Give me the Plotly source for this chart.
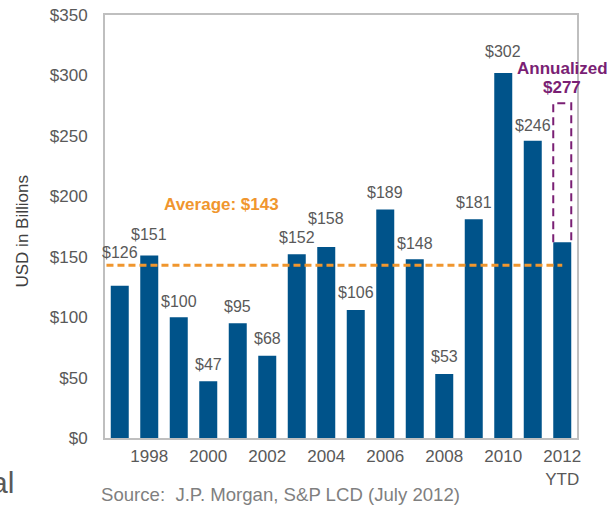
import plotly.graph_objects as go

# ---- data ----
years = ["1997", "1998", "1999", "2000", "2001", "2002", "2003", "2004",
         "2005", "2006", "2007", "2008", "2009", "2010", "2011", "2012 YTD"]
issuance = [126, 151, 100, 47, 95, 68, 152, 158, 106, 189, 148, 53, 181, 302, 246, 162]
value_labels = ["$126", "$151", "$100", "$47", "$95", "$68", "$152", "$158",
                "$106", "$189", "$148", "$53", "$181", "$302", "$246", ""]
tick_labels = ["1998", "2000", "2002", "2004", "2006", "2008", "2010", "2012<br>YTD"]
tick_years = ["1998", "2000", "2002", "2004", "2006", "2008", "2010", "2012 YTD"]
y_ticks = [0, 50, 100, 150, 200, 250, 300, 350]
y_tick_labels = ["$0", "$50", "$100", "$150", "$200", "$250", "$300", "$350"]
average = 143
annualized_2012 = 277

# ---- style ----
FONT = "Arial, Liberation Sans, sans-serif"
BAR = "#00538A"
ORANGE = "#F0962E"
PURPLE = "#7A1F74"
GREY = "#595959"
label_lift = [33, 21, 16, 17, 17, 17, 17, 29, 17, 17, 16, 17, 17, 22, 15, 17]

xs = list(range(len(years)))
tickvals = [years.index(t) for t in tick_years]

fig = go.Figure()
fig.add_trace(go.Bar(x=xs, y=issuance, marker=dict(color=BAR, line=dict(width=0)),
                     width=0.61, hoverinfo="skip"))

annotations = []
for i, (v, t) in enumerate(zip(issuance, value_labels)):
    if t:
        annotations.append(dict(x=i, y=v, text=t, showarrow=False, xref="x", yref="y",
                                yanchor="middle", yshift=label_lift[i],
                                font=dict(family=FONT, size=16, color=GREY)))

last = len(years) - 1
annotations.append(dict(x=3.45, y=average, xref="x", yref="y", text="<b>Average: $143</b>",
                        showarrow=False, yanchor="middle", yshift=61,
                        font=dict(family=FONT, size=17, color=ORANGE)))
annotations.append(dict(x=last, y=annualized_2012, xref="x", yref="y", text="<b>$277</b>",
                        showarrow=False, yanchor="middle", yshift=16,
                        font=dict(family=FONT, size=17, color=PURPLE)))
annotations.append(dict(x=last, y=annualized_2012, xref="x", yref="y", text="<b>Annualized</b>",
                        showarrow=False, yanchor="middle", yshift=35,
                        font=dict(family=FONT, size=17, color=PURPLE)))
annotations.append(dict(x=0, y=0.5, xref="paper", yref="paper", text="USD in Billions",
                        textangle=-90, showarrow=False, xanchor="center", yanchor="middle",
                        xshift=-83, yshift=-5,
                        font=dict(family=FONT, size=17, color="#404040")))
annotations.append(dict(x=0, y=0, xref="paper", yref="paper",
                        text="Source:  J.P. Morgan, S&P LCD (July 2012)",
                        showarrow=False, xanchor="left", yanchor="middle",
                        xshift=-6, yshift=-56,
                        font=dict(family=FONT, size=18.6, color="#7F7F7F")))
annotations.append(dict(x=0, y=0, xref="paper", yref="paper", text="al",
                        showarrow=False, xanchor="right", yanchor="middle",
                        xshift=-89, yshift=-44,
                        font=dict(family=FONT, size=30, color="#595959")))

half = 0.305
shapes = [
    dict(type="line", xref="x", yref="y", x0=-0.45, x1=last, y0=average, y1=average,
         line=dict(color=ORANGE, width=3, dash="7px,4px"), layer="above"),
    dict(type="path", xref="x", yref="y",
         path=f"M {last - half},{issuance[last]} L {last - half},{annualized_2012} "
              f"L {last + half},{annualized_2012} L {last + half},{issuance[last]}",
         line=dict(color=PURPLE, width=2, dash="8px,5px"), layer="above"),
]

fig.update_layout(
    width=607, height=505, autosize=False,
    margin=dict(l=105, r=30, t=15, b=67, autoexpand=False),
    paper_bgcolor="white", plot_bgcolor="white",
    showlegend=False,
    annotations=annotations, shapes=shapes,
    font=dict(family=FONT, color=GREY),
    xaxis=dict(range=[-0.5, 15.5], tickmode="array", tickvals=tickvals, ticktext=tick_labels,
               showgrid=False, zeroline=False, showline=True, mirror=True,
               linecolor="#BFBFBF", linewidth=2, ticks="outside", ticklen=2,
               tickcolor="rgba(0,0,0,0)", tickfont=dict(family=FONT, size=17, color=GREY),
               automargin=False, fixedrange=True),
    yaxis=dict(range=[0, 350], tickmode="array", tickvals=y_ticks, ticktext=y_tick_labels,
               showgrid=False, zeroline=False, showline=True, mirror=True,
               linecolor="#BFBFBF", linewidth=2, ticks="outside", ticklen=12,
               tickcolor="rgba(0,0,0,0)", tickfont=dict(family=FONT, size=17, color=GREY),
               automargin=False, fixedrange=True),
)

fig.write_html("out.html", config={"responsive": False, "displayModeBar": False},
               post_script="document.body.style.margin='0';document.body.style.overflow='hidden';")
